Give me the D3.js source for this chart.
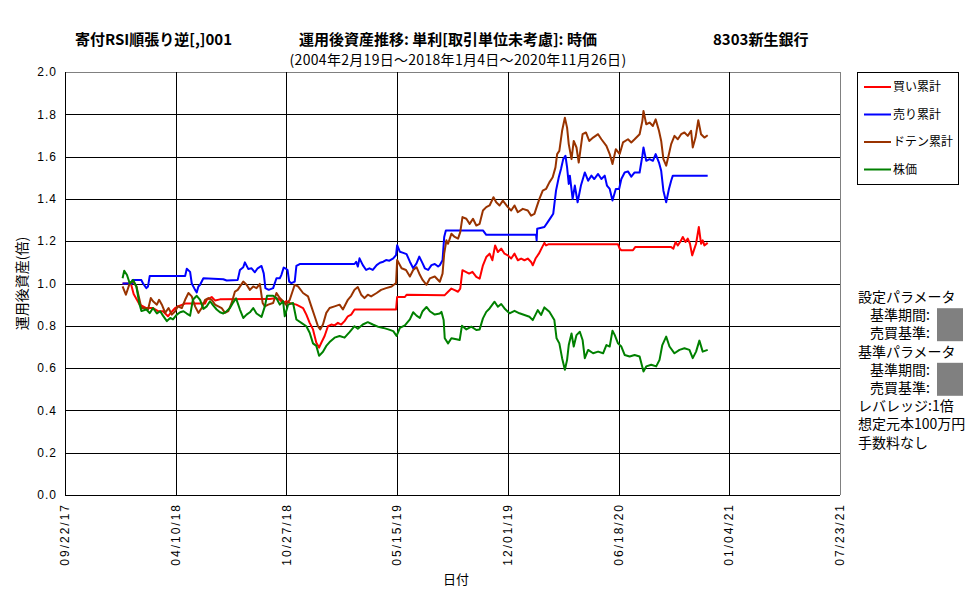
<!DOCTYPE html>
<html>
<head>
<meta charset="utf-8">
<script src="https://cdn.jsdelivr.net/npm/d3@7"></script>
<style>
body { margin: 0; background: #fff; }
text { font-family: "Noto Sans CJK JP", "Noto Sans", sans-serif; fill: #000; }
.num { font-family: "Liberation Sans", Arial, sans-serif; }
</style>
</head>
<body>
<div id="main"></div>
<script>
// 買い累計
var buyCum = [["2018-01-04",1.0],["2018-01-19",1.0],["2018-01-24",0.95],["2018-02-04",0.9],["2018-02-16",0.884],["2018-02-28",0.884],["2018-03-09",0.869],["2018-03-18",0.869],["2018-03-27",0.845],["2018-04-01",0.861],["2018-04-09",0.884],["2018-04-14",0.892],["2018-04-27",0.905],["2018-06-02",0.905],["2018-06-05",0.923],["2018-06-14",0.936],["2018-06-20",0.92],["2018-06-29",0.925],["2018-09-27",0.927],["2018-10-09",0.931],["2018-10-15",0.923],["2018-10-21",0.908],["2018-10-27",0.916],["2018-11-02",0.908],["2018-11-14",0.9],["2018-11-20",0.892],["2018-11-26",0.884],["2018-12-02",0.853],["2018-12-08",0.814],["2018-12-14",0.783],["2018-12-20",0.72],["2018-12-25",0.697],["2018-12-29",0.72],["2019-01-04",0.752],["2019-01-10",0.798],["2019-01-16",0.806],["2019-01-22",0.802],["2019-01-28",0.814],["2019-02-03",0.806],["2019-02-09",0.822],["2019-02-15",0.845],["2019-02-21",0.853],["2019-02-27",0.877],["2019-05-13",0.877],["2019-05-15",0.936],["2019-05-29",0.936],["2019-06-01",0.947],["2019-08-09",0.945],["2019-08-15",0.961],["2019-08-21",0.976],["2019-08-27",0.969],["2019-09-02",0.961],["2019-09-06",0.976],["2019-09-10",1.063],["2019-09-16",1.055],["2019-09-22",1.047],["2019-09-28",1.055],["2019-10-05",1.031],["2019-10-11",1.023],["2019-10-17",1.086],["2019-10-23",1.125],["2019-10-29",1.141],["2019-11-03",1.11],["2019-11-08",1.18],["2019-11-13",1.149],["2019-11-19",1.165],["2019-11-25",1.141],["2019-12-01",1.133],["2019-12-07",1.118],["2019-12-13",1.141],["2019-12-19",1.11],["2019-12-25",1.118],["2019-12-31",1.11],["2020-01-06",1.118],["2020-01-12",1.102],["2020-01-15",1.086],["2020-01-20",1.118],["2020-01-26",1.141],["2020-02-01",1.172],["2020-02-05",1.192],["2020-02-08",1.18],["2020-02-12",1.185],["2020-06-17",1.185],["2020-06-20",1.165],["2020-06-23",1.157],["2020-07-14",1.157],["2020-07-18",1.172],["2020-09-21",1.172],["2020-09-25",1.165],["2020-09-29",1.196],["2020-10-03",1.18],["2020-10-09",1.204],["2020-10-12",1.22],["2020-10-17",1.196],["2020-10-21",1.212],["2020-10-25",1.188],["2020-10-29",1.133],["2020-11-02",1.165],["2020-11-05",1.188],["2020-11-10",1.267],["2020-11-14",1.188],["2020-11-17",1.204],["2020-11-20",1.18],["2020-11-26",1.192]];

// 売り累計
var sellCum = [["2018-01-04",1.0],["2018-01-21",1.0],["2018-01-22",1.016],["2018-02-07",1.016],["2018-02-10",1.0],["2018-02-16",0.978],["2018-02-19",0.986],["2018-02-22",1.035],["2018-04-27",1.035],["2018-04-30",1.07],["2018-05-06",1.055],["2018-05-09",1.0],["2018-05-15",0.97],["2018-05-18",0.958],["2018-05-21",0.986],["2018-05-24",0.994],["2018-05-30",1.025],["2018-07-05",1.02],["2018-07-11",1.014],["2018-07-31",1.017],["2018-08-04",1.064],["2018-08-10",1.077],["2018-08-13",1.1],["2018-08-19",1.069],["2018-08-25",1.072],["2018-08-31",1.053],["2018-09-05",1.072],["2018-09-12",1.083],["2018-09-16",1.048],["2018-09-19",0.978],["2018-09-25",0.97],["2018-10-03",0.978],["2018-10-09",1.025],["2018-10-15",1.025],["2018-10-18",1.041],["2018-10-22",1.075],["2018-10-26",1.07],["2018-10-29",1.064],["2018-11-01",1.009],["2018-11-05",1.002],["2018-11-11",1.009],["2018-11-14",1.083],["2018-11-20",1.092],["2019-02-27",1.092],["2019-03-02",1.103],["2019-03-05",1.08],["2019-03-08",1.119],["2019-03-14",1.087],["2019-03-20",1.064],["2019-03-26",1.072],["2019-04-01",1.064],["2019-04-08",1.087],["2019-04-14",1.098],["2019-04-20",1.103],["2019-04-25",1.111],["2019-05-01",1.108],["2019-05-08",1.119],["2019-05-13",1.134],["2019-05-15",1.181],["2019-05-20",1.15],["2019-05-26",1.145],["2019-06-01",1.139],["2019-06-07",1.103],["2019-06-13",1.072],["2019-06-19",1.095],["2019-06-24",1.127],["2019-06-30",1.095],["2019-07-04",1.072],["2019-07-10",1.064],["2019-07-16",1.087],["2019-07-22",1.092],["2019-07-28",1.08],["2019-07-31",1.086],["2019-08-05",1.11],["2019-08-08",1.22],["2019-08-11",1.251],["2019-10-17",1.251],["2019-10-23",1.23],["2020-01-21",1.23],["2020-01-22",1.204],["2020-01-23",1.259],["2020-02-05",1.267],["2020-02-11",1.29],["2020-02-17",1.314],["2020-02-21",1.33],["2020-02-26",1.439],["2020-03-02",1.502],["2020-03-06",1.541],["2020-03-10",1.588],["2020-03-14",1.604],["2020-03-17",1.549],["2020-03-20",1.471],["2020-03-22",1.51],["2020-03-27",1.4],["2020-03-31",1.463],["2020-04-05",1.384],["2020-04-11",1.463],["2020-04-18",1.525],["2020-04-24",1.486],["2020-04-30",1.51],["2020-05-05",1.494],["2020-05-12",1.518],["2020-05-18",1.494],["2020-05-24",1.51],["2020-05-28",1.463],["2020-06-02",1.447],["2020-06-07",1.392],["2020-06-13",1.447],["2020-06-19",1.447],["2020-06-23",1.494],["2020-06-29",1.525],["2020-07-05",1.53],["2020-07-11",1.505],["2020-07-17",1.525],["2020-07-26",1.525],["2020-07-31",1.604],["2020-08-02",1.643],["2020-08-07",1.58],["2020-08-13",1.588],["2020-08-19",1.58],["2020-08-24",1.612],["2020-08-30",1.572],["2020-09-03",1.533],["2020-09-07",1.439],["2020-09-12",1.384],["2020-09-17",1.447],["2020-09-21",1.486],["2020-09-24",1.51],["2020-11-26",1.51]];

// ドテン累計
var dotenCum = [["2018-01-04",0.986],["2018-01-10",0.947],["2018-01-17",1.002],["2018-01-23",1.01],["2018-01-29",0.986],["2018-02-03",0.93],["2018-02-07",0.884],["2018-02-13",0.884],["2018-02-19",0.877],["2018-02-24",0.931],["2018-02-28",0.916],["2018-03-07",0.9],["2018-03-11",0.923],["2018-03-16",0.9],["2018-03-22",0.861],["2018-03-28",0.884],["2018-04-03",0.853],["2018-04-09",0.869],["2018-04-14",0.892],["2018-04-21",0.884],["2018-04-27",0.923],["2018-05-03",0.955],["2018-05-09",0.939],["2018-05-15",0.892],["2018-05-21",0.861],["2018-05-27",0.884],["2018-06-02",0.923],["2018-06-08",0.931],["2018-06-14",0.923],["2018-06-20",0.9],["2018-06-26",0.892],["2018-07-02",0.884],["2018-07-08",0.861],["2018-07-14",0.869],["2018-07-20",0.908],["2018-07-26",0.962],["2018-07-31",0.97],["2018-08-10",1.009],["2018-08-16",0.994],["2018-08-22",0.97],["2018-08-28",0.986],["2018-09-03",0.978],["2018-09-09",0.998],["2018-09-14",0.908],["2018-09-18",0.892],["2018-09-24",0.9],["2018-10-03",0.908],["2018-10-09",0.955],["2018-10-15",0.931],["2018-10-21",0.916],["2018-10-26",0.9],["2018-11-02",0.923],["2018-11-11",0.994],["2018-11-17",0.986],["2018-11-26",0.955],["2018-12-05",0.939],["2018-12-11",0.892],["2018-12-17",0.845],["2018-12-23",0.798],["2018-12-27",0.783],["2019-01-01",0.806],["2019-01-07",0.861],["2019-01-13",0.884],["2019-01-22",0.892],["2019-01-31",0.9],["2019-02-06",0.877],["2019-02-15",0.923],["2019-02-21",0.942],["2019-02-27",0.97],["2019-03-05",0.983],["2019-03-11",0.947],["2019-03-17",0.931],["2019-03-23",0.947],["2019-03-29",0.939],["2019-04-08",0.955],["2019-04-16",0.97],["2019-04-25",0.978],["2019-05-05",0.986],["2019-05-13",1.002],["2019-05-15",1.111],["2019-05-23",1.072],["2019-05-31",1.064],["2019-06-07",1.033],["2019-06-13",1.064],["2019-06-19",1.077],["2019-06-25",1.041],["2019-06-30",1.017],["2019-07-07",0.994],["2019-07-13",1.024],["2019-07-22",1.033],["2019-07-31",1.008],["2019-08-05",1.047],["2019-08-08",1.141],["2019-08-12",1.204],["2019-08-15",1.188],["2019-08-21",1.235],["2019-08-27",1.22],["2019-09-02",1.212],["2019-09-06",1.243],["2019-09-10",1.314],["2019-09-17",1.306],["2019-09-23",1.282],["2019-09-29",1.306],["2019-10-05",1.274],["2019-10-11",1.282],["2019-10-17",1.345],["2019-10-23",1.361],["2019-10-29",1.369],["2019-11-05",1.408],["2019-11-10",1.384],["2019-11-16",1.369],["2019-11-22",1.392],["2019-12-01",1.361],["2019-12-07",1.345],["2019-12-13",1.369],["2019-12-19",1.337],["2019-12-28",1.353],["2020-01-06",1.345],["2020-01-12",1.321],["2020-01-18",1.329],["2020-01-22",1.361],["2020-01-27",1.4],["2020-02-02",1.439],["2020-02-08",1.447],["2020-02-14",1.478],["2020-02-20",1.502],["2020-02-25",1.549],["2020-02-28",1.612],["2020-03-03",1.627],["2020-03-08",1.722],["2020-03-13",1.784],["2020-03-17",1.737],["2020-03-20",1.659],["2020-03-25",1.588],["2020-03-29",1.674],["2020-04-03",1.643],["2020-04-07",1.572],["2020-04-14",1.706],["2020-04-20",1.714],["2020-04-26",1.674],["2020-05-03",1.69],["2020-05-12",1.706],["2020-05-18",1.682],["2020-05-27",1.651],["2020-06-02",1.612],["2020-06-07",1.565],["2020-06-13",1.635],["2020-06-20",1.612],["2020-06-26",1.667],["2020-07-05",1.682],["2020-07-11",1.667],["2020-07-17",1.682],["2020-07-26",1.706],["2020-07-31",1.769],["2020-08-02",1.816],["2020-08-07",1.753],["2020-08-13",1.761],["2020-08-19",1.745],["2020-08-24",1.776],["2020-08-30",1.722],["2020-09-03",1.674],["2020-09-07",1.588],["2020-09-12",1.557],["2020-09-17",1.612],["2020-09-21",1.659],["2020-09-27",1.698],["2020-10-03",1.682],["2020-10-09",1.706],["2020-10-15",1.714],["2020-10-21",1.698],["2020-10-27",1.722],["2020-10-30",1.643],["2020-11-04",1.69],["2020-11-09",1.772],["2020-11-14",1.706],["2020-11-20",1.69],["2020-11-26",1.701]];

// 株価
var stockPrice = [["2018-01-04",1.025],["2018-01-07",1.06],["2018-01-12",1.04],["2018-01-17",1.0],["2018-01-23",1.017],["2018-01-29",0.986],["2018-02-03",0.908],["2018-02-07",0.87],["2018-02-16",0.877],["2018-02-22",0.86],["2018-02-28",0.884],["2018-03-07",0.858],["2018-03-13",0.869],["2018-03-18",0.848],["2018-03-25",0.822],["2018-03-31",0.837],["2018-04-05",0.83],["2018-04-12",0.853],["2018-04-18",0.864],["2018-04-24",0.869],["2018-04-30",0.858],["2018-05-06",0.848],["2018-05-11",0.923],["2018-05-18",0.942],["2018-05-24",0.923],["2018-05-30",0.88],["2018-06-05",0.892],["2018-06-11",0.916],["2018-06-17",0.895],["2018-06-23",0.877],["2018-06-29",0.864],["2018-07-05",0.858],["2018-07-11",0.869],["2018-07-17",0.884],["2018-07-23",0.911],["2018-07-28",0.93],["2018-08-04",0.877],["2018-08-10",0.837],["2018-08-16",0.853],["2018-08-22",0.864],["2018-08-28",0.884],["2018-09-03",0.858],["2018-09-12",0.842],["2018-09-18",0.892],["2018-09-22",0.942],["2018-10-03",0.942],["2018-10-09",0.93],["2018-10-15",0.9],["2018-10-21",0.916],["2018-10-24",0.845],["2018-10-30",0.9],["2018-11-08",0.908],["2018-11-14",0.83],["2018-11-23",0.814],["2018-12-02",0.798],["2018-12-08",0.767],["2018-12-14",0.717],["2018-12-20",0.705],["2018-12-25",0.658],["2019-01-01",0.677],["2019-01-07",0.705],["2019-01-13",0.723],["2019-01-22",0.744],["2019-01-31",0.752],["2019-02-09",0.744],["2019-02-18",0.77],["2019-02-27",0.798],["2019-03-05",0.786],["2019-03-14",0.806],["2019-03-23",0.817],["2019-04-01",0.806],["2019-04-11",0.795],["2019-04-20",0.79],["2019-04-29",0.783],["2019-05-08",0.775],["2019-05-14",0.752],["2019-05-20",0.79],["2019-05-29",0.802],["2019-06-07",0.83],["2019-06-13",0.864],["2019-06-19",0.848],["2019-06-25",0.837],["2019-06-30",0.869],["2019-07-07",0.889],["2019-07-13",0.869],["2019-07-22",0.853],["2019-07-31",0.858],["2019-08-03",0.866],["2019-08-07",0.827],["2019-08-09",0.741],["2019-08-15",0.717],["2019-08-21",0.741],["2019-08-30",0.736],["2019-09-05",0.733],["2019-09-09",0.8],["2019-09-17",0.783],["2019-09-26",0.796],["2019-10-05",0.78],["2019-10-11",0.783],["2019-10-17",0.835],["2019-10-23",0.866],["2019-10-29",0.882],["2019-11-07",0.914],["2019-11-13",0.89],["2019-11-19",0.903],["2019-11-25",0.882],["2019-12-04",0.859],["2019-12-13",0.871],["2019-12-22",0.859],["2019-12-31",0.851],["2020-01-09",0.843],["2020-01-15",0.827],["2020-01-24",0.874],["2020-01-30",0.851],["2020-02-05",0.887],["2020-02-14",0.866],["2020-02-23",0.827],["2020-02-27",0.741],["2020-03-03",0.717],["2020-03-08",0.647],["2020-03-13",0.592],["2020-03-17",0.639],["2020-03-20",0.709],["2020-03-25",0.764],["2020-03-29",0.702],["2020-04-03",0.756],["2020-04-09",0.772],["2020-04-14",0.733],["2020-04-18",0.647],["2020-04-24",0.686],["2020-05-03",0.67],["2020-05-12",0.678],["2020-05-21",0.67],["2020-05-27",0.709],["2020-06-02",0.702],["2020-06-07",0.777],["2020-06-11",0.757],["2020-06-17",0.717],["2020-06-23",0.702],["2020-06-29",0.662],["2020-07-08",0.655],["2020-07-17",0.662],["2020-07-26",0.655],["2020-08-02",0.584],["2020-08-07",0.608],["2020-08-16",0.616],["2020-08-25",0.608],["2020-08-31",0.639],["2020-09-05",0.709],["2020-09-12",0.749],["2020-09-18",0.702],["2020-09-27",0.67],["2020-10-06",0.686],["2020-10-15",0.694],["2020-10-24",0.686],["2020-10-30",0.647],["2020-11-05",0.678],["2020-11-11",0.73],["2020-11-17",0.678],["2020-11-26",0.686]];

var seriesNames = ["買い累計", "売り累計", "ドテン累計", "株価"];
var seriesColors = ["#ff0000", "#0000ff", "#993300", "#008000"];

var xTickDates = ["2017-09-22", "2018-04-10", "2018-10-27", "2019-05-15", "2019-12-01", "2020-06-18", "2021-01-04", "2021-07-23"];
var yTickValues = [0, 0.2, 0.4, 0.6, 0.8, 1.0, 1.2, 1.4, 1.6, 1.8, 2.0];

var paramLines = ["設定パラメータ", "基準期間:", "売買基準:", "基準パラメータ", "基準期間:", "売買基準:", "レバレッジ:1倍", "想定元本100万円", "手数料なし"];
var paramIndent = [0, 1, 1, 0, 1, 1, 0, 0, 0];

var ctx = {
    w: 977,
    h: 600,
    margin: { top: 72, right: 137, bottom: 105, left: 65 },
};

var parseDate = d3.timeParse("%Y-%m-%d");

var createViz = function () {
    var svg = d3.select("#main").append("svg")
        .attr("width", ctx.w)
        .attr("height", ctx.h);
    svg.append("rect").attr("width", ctx.w).attr("height", ctx.h).attr("fill", "#fff");

    var pw = ctx.w - ctx.margin.left - ctx.margin.right;
    var ph = ctx.h - ctx.margin.top - ctx.margin.bottom;

    var ticks = xTickDates.map(parseDate);
    var x = d3.scaleTime()
        .domain([ticks[0], ticks[ticks.length - 1]])
        .range([ctx.margin.left, ctx.margin.left + pw]);
    var y = d3.scaleLinear()
        .domain([0, 2])
        .range([ctx.margin.top + ph, ctx.margin.top]);

    // grid
    var grid = svg.append("g").attr("shape-rendering", "crispEdges");
    grid.selectAll(".hg")
        .data(yTickValues)
        .enter()
        .append("line")
        .attr("x1", x.range()[0])
        .attr("x2", x.range()[1])
        .attr("y1", function (d) { return Math.round(y(d)) + 0.5; })
        .attr("y2", function (d) { return Math.round(y(d)) + 0.5; })
        .attr("stroke", function (d, i) { return i === yTickValues.length - 1 ? "#808080" : "#000"; });
    grid.selectAll(".vg")
        .data(ticks)
        .enter()
        .append("line")
        .attr("x1", function (d) { return Math.round(x(d)) + 0.5; })
        .attr("x2", function (d) { return Math.round(x(d)) + 0.5; })
        .attr("y1", y.range()[1])
        .attr("y2", y.range()[0])
        .attr("stroke", function (d, i) { return i === ticks.length - 1 ? "#808080" : "#000"; });

    // y tick labels
    svg.append("g").selectAll("text")
        .data(yTickValues)
        .enter()
        .append("text")
        .attr("class", "num")
        .attr("x", ctx.margin.left - 8)
        .attr("y", function (d) { return y(d); })
        .attr("dy", "0.35em")
        .attr("text-anchor", "end")
        .style("font-size", "12px")
        .style("letter-spacing", "1px")
        .text(function (d) { return d3.format(".1f")(d); });

    // x tick labels (rotated)
    var fmt = d3.timeFormat("%m/%d/%y");
    svg.append("g").selectAll("text")
        .data(ticks)
        .enter()
        .append("text")
        .attr("class", "num")
        .attr("transform", function (d) {
            return "translate(" + x(d) + "," + (y(0) + 8) + ") rotate(-90)";
        })
        .attr("dy", "0.35em")
        .attr("text-anchor", "end")
        .style("font-size", "12px")
        .style("letter-spacing", "2px")
        .text(function (d) { return fmt(d); });

    // series
    var line = d3.line()
        .x(function (d) { return x(parseDate(d[0])); })
        .y(function (d) { return y(d[1]); });
    var allSeries = [buyCum, sellCum, dotenCum, stockPrice];
    svg.append("g").selectAll("path")
        .data(allSeries)
        .enter()
        .append("path")
        .attr("d", line)
        .attr("fill", "none")
        .attr("stroke", function (d, i) { return seriesColors[i]; })
        .attr("stroke-width", 2)
        .attr("stroke-linejoin", "round");

    // axes lines
    svg.append("line")
        .attr("x1", x.range()[0] + 0.5).attr("x2", x.range()[0] + 0.5)
        .attr("y1", y.range()[1]).attr("y2", y.range()[0] + 1)
        .attr("stroke", "#000").attr("shape-rendering", "crispEdges");
    svg.append("line")
        .attr("x1", x.range()[0]).attr("x2", x.range()[1])
        .attr("y1", Math.round(y(0)) + 0.5).attr("y2", Math.round(y(0)) + 0.5)
        .attr("stroke", "#000").attr("shape-rendering", "crispEdges");

    // titles
    svg.append("text").attr("x", 75).attr("y", 45)
        .style("font-size", "15px").style("font-weight", "bold")
        .text("寄付RSI順張り逆[,]001");
    svg.append("text").attr("x", 299).attr("y", 45)
        .style("font-size", "15px").style("font-weight", "bold")
        .text("運用後資産推移: 単利[取引単位未考慮]: 時価");
    svg.append("text").attr("x", 713).attr("y", 45)
        .style("font-size", "15px").style("font-weight", "bold")
        .text("8303新生銀行");
    svg.append("text").attr("x", 458).attr("y", 65)
        .attr("text-anchor", "middle")
        .style("font-size", "14px")
        .style("letter-spacing", "0.3px")
        .text("(2004年2月19日～2018年1月4日～2020年11月26日)");

    // axis titles
    svg.append("text")
        .attr("transform", "translate(22," + y(1) + ") rotate(-90)")
        .attr("text-anchor", "middle")
        .attr("dy", "0.35em")
        .style("font-size", "14px")
        .text("運用後資産(倍)");
    svg.append("text")
        .attr("x", 456).attr("y", 584)
        .attr("text-anchor", "middle")
        .style("font-size", "13px")
        .text("日付");

    // legend
    var lg = svg.append("g").attr("transform", "translate(857,72)");
    lg.append("rect")
        .attr("x", 0.5).attr("y", 0.5)
        .attr("width", 101).attr("height", 112)
        .attr("fill", "#fff").attr("stroke", "#000")
        .attr("shape-rendering", "crispEdges");
    var items = lg.selectAll(".item")
        .data(seriesNames)
        .enter()
        .append("g")
        .attr("transform", function (d, i) { return "translate(0," + (15 + i * 27.5) + ")"; });
    items.append("line")
        .attr("x1", 7).attr("x2", 34)
        .attr("stroke", function (d, i) { return seriesColors[i]; })
        .attr("stroke-width", 2);
    items.append("text")
        .attr("x", 36)
        .attr("dy", "0.35em")
        .style("font-size", "12px")
        .text(function (d) { return d; });

    // parameter notes
    var pg = svg.append("g").attr("transform", "translate(858,297)");
    pg.selectAll("text")
        .data(paramLines)
        .enter()
        .append("text")
        .attr("x", function (d, i) { return paramIndent[i] * 12; })
        .attr("y", function (d, i) { return i * 18.2; })
        .attr("dy", "0.35em")
        .style("font-size", "14px")
        .text(function (d) { return d; });
    pg.selectAll("rect")
        .data([1, 4])
        .enter()
        .append("rect")
        .attr("x", 79)
        .attr("y", function (d) { return d * 18.2 - 7; })
        .attr("width", 26)
        .attr("height", 33)
        .attr("fill", "#808080");
};

createViz();
</script>
</body>
</html>
